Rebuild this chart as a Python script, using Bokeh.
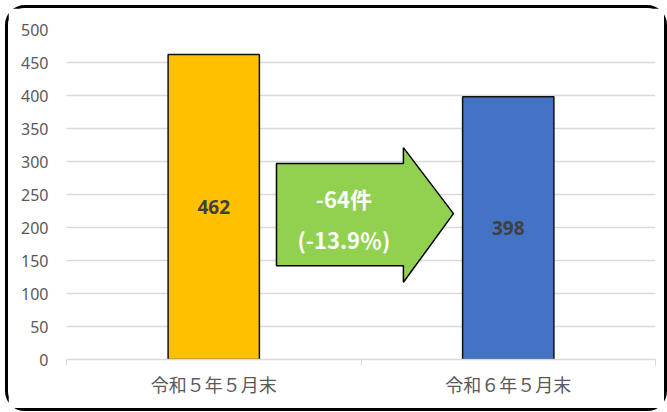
from bokeh.plotting import figure
from bokeh.models import FixedTicker, ColumnDataSource, Range1d
from bokeh.core.properties import value
from bokeh.embed import file_html
from bokeh.resources import INLINE

categories = ["令和５年５月末", "令和６年５月末"]
counts = [462, 398]
bar_colors = ["#FFC000", "#4472C4"]
change_label = "-64件"
change_pct = "(-13.9％)"
y_ticks = [0, 50, 100, 150, 200, 250, 300, 350, 400, 450, 500]

xpos = [0.5 + i for i in range(len(categories))]

p = figure(width=662, height=406, output_backend="svg", toolbar_location=None,
           x_range=Range1d(0, 2), y_range=Range1d(0, 500),
           min_border_left=58, min_border_right=15, min_border_top=21, min_border_bottom=55)
p.styles = {"border": "3px solid black", "border-radius": "20px",
            "box-sizing": "border-box", "margin-left": "5px", "margin-top": "5px"}
p.outline_line_color = None
p.background_fill_color = "white"
p.border_fill_color = "white"

src = ColumnDataSource(dict(x=xpos, top=counts, color=bar_colors,
                            mid=[c / 2 for c in counts], lab=[str(c) for c in counts]))
p.vbar(x="x", top="top", width=0.31, fill_color="color", line_color="#111111",
       line_width=1.5, source=src)
p.text(x="x", y="mid", text="lab", source=src, text_align="center", text_baseline="middle",
       text_font=value("Noto Sans"), text_font_style="bold", text_font_size="19px",
       text_color="#404040")

# arrow between bars
ax = [0.713, 1.144, 1.144, 1.314, 1.144, 1.144, 0.713]
ay = [297, 297, 321, 221, 117, 142, 142]
p.patch(ax, ay, fill_color="#92D050", line_color="black", line_width=1.5)
p.text(x=[0.942, 0.942], y=[244, 183], text=[change_label, change_pct],
       text_align="center", text_baseline="middle",
       text_font=value("Noto Sans CJK JP"), text_font_style="bold", text_font_size="22px",
       text_color="white")

p.xaxis.ticker = FixedTicker(ticks=xpos, minor_ticks=[0, 1, 2])
p.xaxis.major_label_overrides = {x: c for x, c in zip(xpos, categories)}
p.xaxis.major_tick_line_color = None
p.xaxis.major_tick_out = 0
p.xaxis.major_tick_in = 0
p.xaxis.minor_tick_line_color = "#D9D9D9"
p.xaxis.minor_tick_out = 6
p.xaxis.minor_tick_in = 0
p.xaxis.axis_line_color = "#D9D9D9"
p.xaxis.axis_line_width = 1.5
p.xaxis.major_label_text_font = "Noto Sans CJK JP"
p.xaxis.major_label_text_font_size = "18px"
p.xaxis.major_label_text_color = "#595959"
p.xaxis.major_label_standoff = 5
p.xgrid.grid_line_color = None

p.yaxis.ticker = FixedTicker(ticks=y_ticks)
p.yaxis.axis_line_color = None
p.yaxis.major_tick_line_color = None
p.yaxis.major_tick_out = 0
p.yaxis.major_tick_in = 0
p.yaxis.minor_tick_line_color = None
p.yaxis.minor_tick_out = 0
p.yaxis.major_label_text_font = "Noto Sans"
p.yaxis.major_label_text_font_size = "16px"
p.yaxis.major_label_text_color = "#595959"
p.yaxis.major_label_standoff = 18
p.ygrid.grid_line_color = "#D9D9D9"
p.ygrid.grid_line_width = 1.5

open("out.html", "w").write(file_html(p, INLINE))
